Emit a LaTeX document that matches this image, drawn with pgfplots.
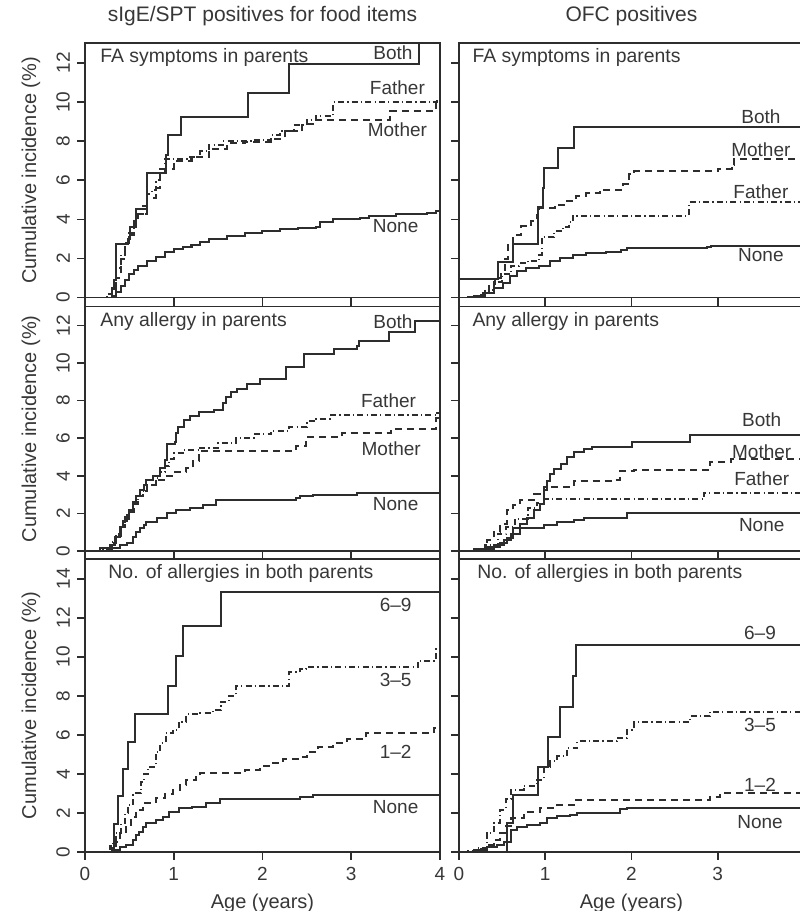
\documentclass[border=0pt]{standalone}
\usepackage{fontspec}
\setmainfont{Liberation Sans}
\usepackage{pgfplots}
\pgfplotsset{compat=1.18}
\definecolor{ink}{RGB}{45,45,45}
\definecolor{txt}{RGB}{55,55,55}
\tikzset{
  lab/.style={font=\fontsize{9.5}{11}\selectfont, text=txt},
  ptitle/.style={font=\fontsize{9.7}{12}\selectfont, text=txt, anchor=north west, inner sep=0pt},
}
\pgfplotsset{
  panel/.style={
    scale only axis, anchor=south west,
    xmin=0, xmax=4, ymin=0,
    axis line style={ink, line width=0.8pt},
    every tick/.style={ink, line width=0.8pt},
    tick align=outside, major tick length=4pt,
    xtick={0,1,2,3,4}, xtick pos=bottom, ytick pos=left,
    every tick label/.append style={font=\fontsize{9.5}{10}\selectfont, text=txt},
    /pgf/number format/assume math mode=true,
    clip=true,
    title style={at={(0.5,1)}, anchor=center, yshift=7.5pt, font=\fontsize{10.5}{12}\selectfont, text=txt},
  },
  leftcol/.style={panel, width=177.5pt,
    yticklabel style={rotate=90, anchor=south},
    ylabel={Cumulative incidence (\%)},
    ylabel style={at={(axis description cs:-0.152,0.5)}, anchor=center, font=\fontsize{10}{12}\selectfont, text=txt}},
  rightcol/.style={panel, width=172.5pt, yticklabels={}},
  noxlab/.style={xticklabels={}},
  curve/.style={const plot, no marks, ink, line width=1pt},
  dsh/.style={curve, dash pattern=on 3.5pt off 2.5pt},
  dsd/.style={curve, dash pattern=on 3pt off 1.6pt on 0.6pt off 1.6pt},
}
\begin{document}
\begin{tikzpicture}
% ---------------- Row 1 left
\begin{axis}[leftcol, noxlab, at={(42.5pt,306.65pt)}, height=127.2pt, ymax=13, ytick={0,2,4,6,8,10,12},
  title={sIgE/SPT positives for food items}]
\addplot[curve] coordinates {(0,0)(0.30,0.45)(0.33,0.9)(0.35,2.75)(0.49,3.0)(0.51,3.6)(0.57,4.55)(0.70,6.35)(0.91,7.3)(0.93,8.3)(1.08,9.25)(1.84,10.45)(2.30,11.95)(3.76,14)(4,14)};
\addplot[dsd] coordinates {(0,0)(0.25,0.2)(0.3,0.5)(0.35,1.5)(0.4,2.2)(0.45,2.8)(0.5,3.2)(0.55,3.9)(0.6,4.3)(0.65,4.7)(0.7,5.3)(0.75,5.5)(0.8,6.0)(0.85,6.6)(0.9,7.1)(1.15,7.2)(1.3,7.5)(1.4,7.8)(1.55,8.0)(1.9,8.05)(2.1,8.3)(2.2,8.5)(2.35,8.8)(2.5,9.1)(2.6,9.3)(2.8,10.0)(3.97,10.15)(4,10.15)};
\addplot[dsh] coordinates {(0,0)(0.3,0.3)(0.35,1.0)(0.4,2.0)(0.45,2.8)(0.5,3.3)(0.55,4.0)(0.6,4.3)(0.7,5.1)(0.8,5.6)(0.85,6.4)(0.9,6.6)(1.0,7.0)(1.2,7.2)(1.4,7.6)(1.6,7.9)(1.8,7.95)(2.1,8.1)(2.25,8.5)(2.45,8.9)(2.6,9.1)(3.44,9.55)(3.96,10.1)(4,10.1)};
\addplot[curve] coordinates {(0,0)(0.3,0.1)(0.35,0.3)(0.4,0.6)(0.45,0.9)(0.5,1.2)(0.55,1.4)(0.6,1.6)(0.7,1.85)(0.8,2.1)(0.9,2.35)(1.0,2.5)(1.1,2.6)(1.2,2.7)(1.3,2.85)(1.4,3.0)(1.6,3.15)(1.8,3.3)(2.0,3.4)(2.2,3.5)(2.4,3.55)(2.6,3.6)(2.65,3.85)(2.8,4.0)(3.1,4.05)(3.2,4.2)(3.5,4.3)(3.85,4.35)(3.95,4.45)(4,4.45)};
\node[ptitle] at (axis description cs:0.042,0.98) {FA symptoms in parents};
\node[lab] at (axis cs:3.47,12.5) {Both};
\node[lab] at (axis cs:3.52,10.74) {Father};
\node[lab] at (axis cs:3.52,8.56) {Mother};
\node[lab] at (axis cs:3.5,3.64) {None};
\end{axis}
% ---------------- Row 1 right
\begin{axis}[rightcol, noxlab, at={(229.5pt,306.65pt)}, height=127.2pt, ymax=13, ytick={0,2,4,6,8,10,12},
  title={OFC positives}]
\addplot[curve] coordinates {(0,0.93)(0.45,1.82)(0.63,2.75)(0.92,4.63)(0.97,5.6)(0.99,6.62)(1.15,7.64)(1.33,8.71)(4,8.71)};
\addplot[dsh] coordinates {(0,0)(0.2,0.15)(0.28,0.25)(0.35,0.7)(0.42,1.0)(0.49,1.4)(0.53,2.0)(0.57,2.7)(0.63,3.2)(0.72,3.65)(0.84,3.9)(0.9,4.25)(0.93,4.6)(1.11,4.75)(1.24,4.95)(1.36,5.2)(1.47,5.33)(1.63,5.5)(1.9,5.8)(1.97,6.3)(2.03,6.45)(3.0,6.6)(3.16,6.8)(3.19,7.1)(4,7.1)};
\addplot[dsd] coordinates {(0,0)(0.2,0.1)(0.3,0.4)(0.4,0.8)(0.5,1.2)(0.6,1.6)(0.7,1.75)(0.8,1.9)(0.93,2.2)(0.96,3.1)(1.1,3.4)(1.2,3.6)(1.28,3.85)(1.32,4.2)(2.67,4.9)(4,4.9)};
\addplot[curve] coordinates {(0,0)(0.1,0.05)(0.17,0.1)(0.28,0.25)(0.4,0.5)(0.51,0.76)(0.59,1.1)(0.67,1.36)(0.78,1.5)(0.93,1.62)(1.05,1.87)(1.17,2.04)(1.32,2.2)(1.47,2.29)(1.7,2.35)(1.88,2.46)(1.95,2.55)(2.88,2.6)(2.92,2.65)(4,2.65)};
\node[ptitle] at (axis description cs:0.038,0.98) {FA symptoms in parents};
\node[lab] at (axis cs:3.5,9.24) {Both};
\node[lab] at (axis cs:3.5,7.54) {Mother};
\node[lab] at (axis cs:3.5,5.41) {Father};
\node[lab] at (axis cs:3.5,2.18) {None};
\end{axis}
% ---------------- Row 2 left
\begin{axis}[leftcol, noxlab, at={(42.5pt,180pt)}, height=122.15pt, ymax=13, ytick={0,2,4,6,8,10,12}]
\addplot[curve] coordinates {(0,0)(0.17,0.14)(0.28,0.3)(0.34,0.76)(0.39,1.3)(0.43,1.6)(0.47,1.9)(0.5,2.2)(0.54,2.6)(0.58,2.9)(0.62,3.24)(0.66,3.5)(0.69,3.77)(0.77,4.0)(0.84,4.4)(0.9,4.83)(0.92,5.7)(1.01,5.8)(1.03,6.3)(1.05,6.6)(1.11,6.95)(1.18,7.2)(1.29,7.4)(1.45,7.5)(1.55,7.9)(1.59,8.2)(1.65,8.45)(1.71,8.64)(1.82,8.9)(1.97,9.17)(2.27,9.8)(2.47,10.5)(2.81,10.76)(3.06,10.9)(3.09,11.2)(3.43,11.65)(3.72,12.25)(4,12.25)};
\addplot[dsd] coordinates {(0,0)(0.2,0.1)(0.3,0.5)(0.35,0.9)(0.4,1.4)(0.45,1.8)(0.5,2.2)(0.55,2.6)(0.6,2.9)(0.65,3.2)(0.7,3.5)(0.8,3.9)(0.85,4.2)(0.9,4.5)(0.95,4.9)(1.0,5.2)(1.1,5.35)(1.3,5.5)(1.5,5.75)(1.7,6.0)(1.9,6.2)(2.1,6.4)(2.3,6.6)(2.5,6.9)(2.6,7.05)(2.76,7.22)(3.97,7.35)(4,7.35)};
\addplot[dsh] coordinates {(0,0)(0.25,0.1)(0.3,0.4)(0.35,0.8)(0.4,1.3)(0.45,1.7)(0.5,2.1)(0.55,2.5)(0.6,2.9)(0.65,3.2)(0.7,3.5)(0.8,3.8)(0.9,4.0)(1.0,4.2)(1.14,4.4)(1.22,4.8)(1.29,5.3)(2.38,5.6)(2.49,6.05)(2.9,6.3)(3.45,6.5)(3.96,7.1)(4,7.1)};
\addplot[curve] coordinates {(0,0)(0.28,0.14)(0.39,0.32)(0.47,0.4)(0.54,0.76)(0.58,1.0)(0.62,1.2)(0.66,1.4)(0.69,1.56)(0.81,1.73)(0.92,2.0)(1.03,2.18)(1.18,2.27)(1.33,2.44)(1.48,2.7)(2.38,2.8)(2.42,2.92)(2.57,2.97)(3.07,3.06)(4,3.06)};
\node[ptitle] at (axis description cs:0.042,0.98) {Any allergy in parents};
\node[lab] at (axis cs:3.47,12.2) {Both};
\node[lab] at (axis cs:3.42,8.0) {Father};
\node[lab] at (axis cs:3.45,5.45) {Mother};
\node[lab] at (axis cs:3.5,2.5) {None};
\end{axis}
% ---------------- Row 2 right
\begin{axis}[rightcol, noxlab, at={(229.5pt,180pt)}, height=122.15pt, ymax=13, ytick={0,2,4,6,8,10,12}]
\addplot[curve] coordinates {(0,0)(0.17,0.09)(0.32,0.23)(0.48,0.4)(0.56,0.67)(0.63,1.2)(0.71,1.46)(0.79,1.73)(0.87,2.17)(0.94,2.52)(0.98,3.22)(1.02,3.75)(1.06,4.1)(1.1,4.37)(1.18,4.63)(1.25,4.99)(1.33,5.25)(1.45,5.43)(1.54,5.55)(2.0,5.81)(2.68,6.17)(4,6.17)};
\addplot[dsh] coordinates {(0,0)(0.2,0.1)(0.32,0.58)(0.4,1.0)(0.48,1.46)(0.56,2.17)(0.63,2.45)(0.71,2.7)(0.87,3.05)(0.98,3.4)(1.33,3.75)(1.79,3.8)(1.87,4.28)(2.03,4.32)(2.91,4.72)(3.15,4.9)(4,4.9)};
\addplot[dsd] coordinates {(0,0)(0.2,0.1)(0.3,0.3)(0.45,0.9)(0.55,1.3)(0.65,1.7)(0.8,2.3)(0.9,2.55)(0.98,2.78)(2.84,3.1)(4,3.1)};
\addplot[curve] coordinates {(0,0)(0.21,0.09)(0.4,0.32)(0.52,0.58)(0.6,0.93)(0.71,1.2)(0.98,1.37)(1.14,1.55)(1.33,1.64)(1.45,1.73)(1.87,1.78)(1.95,2.0)(4,2.0)};
\node[ptitle] at (axis description cs:0.038,0.98) {Any allergy in parents};
\node[lab] at (axis cs:3.51,6.96) {Both};
\node[lab] at (axis cs:3.51,5.3) {Mother};
\node[lab] at (axis cs:3.51,3.84) {Father};
\node[lab] at (axis cs:3.51,1.37) {None};
\end{axis}
% ---------------- Row 3 left
\begin{axis}[leftcol, at={(42.5pt,29.5pt)}, height=146.35pt, ymax=15, ytick={0,2,4,6,8,10,12,14},
  xlabel={Age (years)}, xlabel style={font=\fontsize{10}{12}\selectfont, text=txt}]
\addplot[curve] coordinates {(0,0)(0.33,1.42)(0.37,2.85)(0.43,4.25)(0.48,5.65)(0.56,7.05)(0.93,8.5)(1.03,10.05)(1.10,11.6)(1.53,13.3)(4,13.3)};
\addplot[dsd] coordinates {(0,0)(0.28,0.3)(0.32,0.6)(0.35,0.96)(0.41,1.47)(0.45,2.0)(0.48,2.41)(0.54,3.0)(0.63,3.6)(0.67,4.0)(0.71,4.38)(0.8,5.15)(0.85,5.6)(0.91,6.09)(0.99,6.26)(1.06,6.68)(1.14,7.05)(1.3,7.11)(1.44,7.28)(1.53,7.7)(1.62,8.0)(1.7,8.5)(2.3,9.2)(2.42,9.37)(2.49,9.47)(3.75,9.8)(3.95,10.4)(4,10.4)};
\addplot[dsh] coordinates {(0,0)(0.3,0.2)(0.35,0.5)(0.39,0.96)(0.46,1.38)(0.52,1.8)(0.58,2.15)(0.65,2.5)(0.8,2.75)(0.9,2.95)(0.99,3.18)(1.07,3.45)(1.14,3.69)(1.25,3.9)(1.3,4.03)(1.8,4.2)(1.97,4.41)(2.1,4.55)(2.23,4.75)(2.4,4.85)(2.5,5.1)(2.62,5.4)(2.79,5.6)(2.95,5.8)(3.17,6.08)(3.93,6.35)(4,6.35)};
\addplot[curve] coordinates {(0,0)(0.33,0.1)(0.39,0.27)(0.46,0.36)(0.54,0.62)(0.58,0.85)(0.61,1.04)(0.65,1.3)(0.69,1.47)(0.8,1.64)(0.88,1.78)(0.95,2.07)(1.06,2.24)(1.21,2.32)(1.36,2.5)(1.52,2.7)(2.42,2.84)(2.57,2.92)(4,2.92)};
\node[ptitle] at (axis description cs:0.065,0.985) {No. of allergies in both parents};
\node[lab] at (axis cs:3.5,12.67) {6--9};
\node[lab] at (axis cs:3.5,8.82) {3--5};
\node[lab] at (axis cs:3.5,5.15) {1--2};
\node[lab] at (axis cs:3.5,2.3) {None};
\end{axis}
% ---------------- Row 3 right
\begin{axis}[rightcol, at={(229.5pt,29.5pt)}, height=146.35pt, ymax=15, ytick={0,2,4,6,8,10,12,14},
  xticklabels={0,1,2,3,{}},
  xlabel={Age (years)}, xlabel style={font=\fontsize{10}{12}\selectfont, text=txt}]
\addplot[curve] coordinates {(0,0)(0.56,1.47)(0.63,2.9)(0.92,4.38)(1.03,5.9)(1.17,7.45)(1.32,9.0)(1.36,10.6)(4,10.6)};
\addplot[dsd] coordinates {(0,0)(0.1,0.05)(0.2,0.2)(0.32,0.96)(0.4,1.5)(0.48,2.16)(0.54,2.7)(0.6,3.18)(0.75,3.4)(0.9,3.7)(0.98,4.38)(1.06,4.65)(1.14,4.9)(1.25,5.33)(1.37,5.67)(1.83,5.84)(1.95,6.27)(2.03,6.64)(2.68,6.95)(2.91,7.2)(4,7.2)};
\addplot[dsh] coordinates {(0,0)(0.2,0.15)(0.3,0.35)(0.4,0.6)(0.48,0.96)(0.55,1.35)(0.6,1.73)(0.75,2.07)(0.94,2.24)(1.14,2.41)(1.33,2.64)(2.91,2.84)(3.03,3.01)(4,3.01)};
\addplot[curve] coordinates {(0,0)(0.17,0.1)(0.32,0.24)(0.44,0.36)(0.52,0.53)(0.6,1.13)(0.67,1.3)(0.79,1.39)(0.94,1.47)(1.02,1.73)(1.14,1.82)(1.29,1.9)(1.37,1.99)(1.79,2.02)(1.87,2.19)(1.95,2.24)(4,2.24)};
\node[ptitle] at (axis description cs:0.052,0.985) {No. of allergies in both parents};
\node[lab] at (axis cs:3.49,11.2) {6--9};
\node[lab] at (axis cs:3.49,6.52) {3--5};
\node[lab] at (axis cs:3.49,3.44) {1--2};
\node[lab] at (axis cs:3.49,1.56) {None};
\end{axis}
\pgfresetboundingbox
\path[use as bounding box] (0,0) rectangle (399.5pt,455.5pt);
\end{tikzpicture}
\end{document}
